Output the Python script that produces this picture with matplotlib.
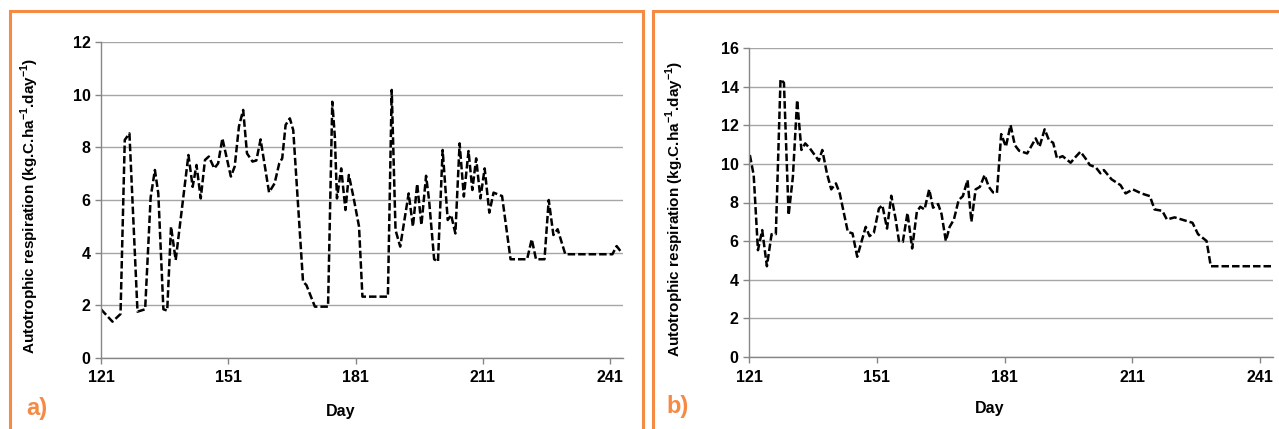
import matplotlib
matplotlib.use("Agg")
import matplotlib.pyplot as plt
from matplotlib.patches import Rectangle

# Panel a) - days and values
days_a = [121, 123.7, 125.6, 126.6, 127.7, 129.6, 131.4, 132.7, 133.7, 134.5,
          135.7, 136.6, 137.5, 138.6, 141.6, 142.6, 143.5, 144.5, 145.5, 146.4,
          147.7, 148.6, 149.6, 151.6, 152.5, 153.5, 154.5, 155.4, 156.7, 157.6,
          158.6, 160.6, 161.9, 163.0, 163.7, 164.5, 165.5, 166.3, 168.6, 169.4,
          171.4, 174.5, 175.5, 176.1, 176.6, 177.6, 178.6, 179.4, 180.5, 181.8,
          182.6, 188.6, 189.5, 190.4, 191.5, 193.5, 194.5, 195.5, 196.5, 197.6,
          198.3, 199.5, 200.4, 201.5, 202.7, 203.5, 204.5, 205.5, 206.5, 207.6,
          208.5, 209.4, 210.4, 211.4, 212.5, 213.5, 215.5, 217.5, 221.4, 222.5,
          223.5, 225.5, 226.5, 227.6, 228.6, 230.4, 241.5, 242.5, 243.5]
resp_a = [1.85, 1.38, 1.67, 8.28, 8.53, 1.76, 1.85, 6.10, 7.14, 6.25,
          1.85, 1.80, 4.99, 3.72, 7.71, 6.50, 7.33, 6.06, 7.52, 7.65,
          7.20, 7.39, 8.34, 6.89, 7.27, 8.79, 9.42, 7.77, 7.46, 7.50,
          8.30, 6.29, 6.63, 7.39, 7.58, 8.85, 9.10, 8.65, 2.90, 2.77,
          1.95, 1.95, 9.73, 8.40, 6.06, 7.20, 5.62, 6.95, 6.10, 4.99,
          2.33, 2.33, 10.18, 4.86, 4.23, 6.25, 4.99, 6.61, 5.05, 6.92,
          6.00, 3.75, 3.66, 7.90, 5.24, 5.43, 4.73, 8.15, 6.13, 7.86,
          6.38, 7.58, 6.06, 7.20, 5.52, 6.28, 6.15, 3.75, 3.75, 4.51,
          3.75, 3.75, 6.00, 4.67, 4.89, 3.94, 3.94, 4.25, 4.04]

# Panel b)
days_b = [121.2, 122.1, 123.1, 124.1, 125.2, 126.3, 127.3, 128.4, 129.2, 130.3,
          131.3, 132.3, 133.3, 134.2, 135.3, 137.4, 138.2, 139.3, 140.3, 141.4,
          142.3, 144.2, 145.3, 146.4, 148.4, 149.3, 150.3, 151.5, 152.3, 153.4,
          154.4, 155.4, 156.2, 157.1, 158.2, 159.3, 160.4, 161.2, 162.2, 163.3,
          164.2, 165.4, 166.2, 167.2, 168.1, 169.1, 170.2, 171.2, 172.3, 173.2,
          174.2, 175.2, 176.3, 177.3, 178.3, 179.2, 180.2, 181.3, 182.4, 183.4,
          184.4, 186.3, 188.3, 189.2, 190.4, 191.4, 192.4, 193.3, 194.6, 196.5,
          197.7, 198.8, 200.0, 201.0, 202.4, 203.5, 204.3, 206.1, 208.2, 209.4,
          211.1, 213.1, 215.1, 216.2, 218.0, 219.1, 220.9, 223.0, 225.1, 226.4,
          228.4, 229.4, 243.6]
resp_b = [10.46, 9.42, 5.53, 6.57, 4.70, 6.36, 6.36, 14.38, 14.20, 7.35,
          9.33, 13.30, 10.72, 11.06, 10.80, 10.16, 10.72, 9.50, 8.68, 8.99,
          8.47, 6.48, 6.40, 5.19, 6.74, 6.26, 6.43, 7.69, 7.86, 6.65,
          8.35, 7.17, 6.01, 5.96, 7.46, 5.62, 7.52, 7.78, 7.64, 8.68,
          7.73, 7.92, 7.40, 6.01, 6.74, 7.12, 8.12, 8.33, 9.16, 7.00,
          8.68, 8.81, 9.42, 8.81, 8.52, 8.50, 11.54, 10.89, 12.01, 10.97,
          10.68, 10.54, 11.32, 10.89, 11.79, 11.23, 11.09, 10.28, 10.40, 10.06,
          10.37, 10.63, 10.28, 9.94, 9.82, 9.51, 9.68, 9.20, 8.90, 8.47,
          8.68, 8.47, 8.33, 7.64, 7.57, 7.12, 7.23, 7.09, 6.95, 6.36,
          6.01, 4.70, 4.70]

xticks = [121, 151, 181, 211, 241]
ylabel = r"Autotrophic respiration (kg.C.ha$^{\mathbf{-1}}$.day$^{\mathbf{-1}}$)"

plt.rcParams['font.family'] = ['Liberation Sans', 'DejaVu Sans']
plt.rcParams['mathtext.fontset'] = 'custom'
plt.rcParams['mathtext.rm'] = 'Liberation Sans'
plt.rcParams['mathtext.bf'] = 'Liberation Sans:bold'

orange = "#F58A45"
grid_c = "#A6A6A6"
axis_c = "#868686"

fig = plt.figure(figsize=(12.79, 4.29), dpi=100)

# panel borders (figure coords, pixel based)
W, H = 1279.0, 429.0
fig.patches.append(Rectangle((10 / W, -0.1), (643 - 10) / W, 1.1 - 11 / H,
                             transform=fig.transFigure, fill=False,
                             edgecolor=orange, lw=2.2))
fig.patches.append(Rectangle((653 / W, -0.1), 0.5, 1.1 - 11 / H,
                             transform=fig.transFigure, fill=False,
                             edgecolor=orange, lw=2.2))


def setup(ax, ymax, ystep, ylab_x):
    ax.set_ylim(0, ymax)
    ax.set_yticks(range(0, ymax + 1, ystep))
    ax.set_xlim(121, 244)
    ax.set_xticks(xticks)
    ax.grid(axis='y', color=grid_c, lw=1)
    ax.set_axisbelow(True)
    for s in ['top', 'right']:
        ax.spines[s].set_visible(False)
    for s in ['left', 'bottom']:
        ax.spines[s].set_color(axis_c)
        ax.spines[s].set_linewidth(1)
    ax.tick_params(axis='both', colors=axis_c, length=4, width=1,
                   labelcolor='black', labelsize=11.5)
    ax.tick_params(axis='x', pad=5)
    for lab in ax.get_xticklabels() + ax.get_yticklabels():
        lab.set_fontweight('bold')
    ax.set_xlabel("Day", fontsize=11.5, fontweight='bold', va='center')
    ax.xaxis.set_label_coords(0.46, -0.168)
    ax.set_ylabel(ylabel, fontsize=11, fontweight='bold', va='center')
    ax.yaxis.set_label_coords(ylab_x, 0.48)


ax1 = fig.add_axes([101 / W, 1 - 358 / H, (623 - 101) / W, (358 - 42) / H])
ax1.plot(days_a, resp_a, color='black', lw=1.8, linestyle=(0, (3, 1.2)))
setup(ax1, 12, 2, -0.136)

ax2 = fig.add_axes([749 / W, 1 - 357 / H, (1273 - 749) / W, (357 - 48) / H])
ax2.plot(days_b, resp_b, color='black', lw=1.8, linestyle=(0, (3, 1.2)))
setup(ax2, 16, 2, -0.141)

fig.text(26 / W, 1 - 409 / H, "a)", color=orange, fontsize=17,
         fontweight='bold', va='center', ha='left')
fig.text(666 / W, 1 - 407 / H, "b)", color=orange, fontsize=17,
         fontweight='bold', va='center', ha='left')

fig.savefig("out.png", dpi=100)
